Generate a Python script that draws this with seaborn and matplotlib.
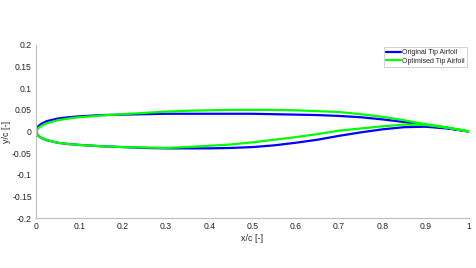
import numpy as np
import pandas as pd
import matplotlib
matplotlib.use("Agg")
import matplotlib.pyplot as plt
import seaborn as sns

# chordwise stations
x_c = [0, 0.005, 0.0125, 0.025, 0.05, 0.075, 0.1, 0.15, 0.2, 0.25, 0.3, 0.35, 0.4,
       0.45, 0.5, 0.55, 0.6, 0.65, 0.7, 0.75, 0.8, 0.85, 0.9, 0.95, 1.0]

orig_upper = [0, 0.012, 0.018, 0.024, 0.030, 0.033, 0.035, 0.038, 0.039, 0.040, 0.041, 0.041,
              0.041, 0.041, 0.041, 0.040, 0.039, 0.038, 0.036, 0.033, 0.028, 0.022, 0.015, 0.008, 0.0]
orig_lower = [0, -0.010, -0.015, -0.020, -0.026, -0.029, -0.031, -0.034, -0.036, -0.038, -0.039,
              -0.039, -0.039, -0.038, -0.036, -0.032, -0.026, -0.019, -0.010, -0.002, 0.005,
              0.010, 0.011, 0.007, 0.0]

opt_upper = [0, 0.008, 0.013, 0.019, 0.026, 0.030, 0.033, 0.037, 0.040, 0.043, 0.046, 0.048,
             0.049, 0.050, 0.050, 0.050, 0.049, 0.047, 0.045, 0.040, 0.034, 0.026, 0.017, 0.009, 0.0]
opt_lower = [0, -0.010, -0.015, -0.020, -0.026, -0.029, -0.031, -0.034, -0.036, -0.037, -0.038,
             -0.036, -0.033, -0.030, -0.025, -0.019, -0.013, -0.006, 0.002, 0.007, 0.012,
             0.016, 0.015, 0.009, 0.0]

series_names = ["Original Tip Airfoil", "Optimised Tip Airfoil"]
x_ticks = [0, 0.1, 0.2, 0.3, 0.4, 0.5, 0.6, 0.7, 0.8, 0.9, 1]
x_tick_labels = ["0", "0.1", "0.2", "0.3", "0.4", "0.5", "0.6", "0.7", "0.8", "0.9", "1"]
y_ticks = [-0.2, -0.15, -0.1, -0.05, 0, 0.05, 0.1, 0.15, 0.2]
y_tick_labels = ["-0.2", "-0.15", "-0.1", "-0.05", "0", "0.05", "0.1", "0.15", "0.2"]


def contour(upper, lower):
    xs = list(reversed(x_c)) + x_c[1:]
    ys = list(reversed(upper)) + lower[1:]
    return xs, ys


rows = []
for name, (up, lo) in zip(series_names, [(orig_upper, orig_lower), (opt_upper, opt_lower)]):
    xs, ys = contour(up, lo)
    for i, (a, b) in enumerate(zip(xs, ys)):
        rows.append({"x": a, "y": b, "series": name, "order": i})
df = pd.DataFrame(rows)

sns.set_style("white")
plt.rcParams['font.family'] = ['Liberation Sans', 'DejaVu Sans']

fig = plt.figure(figsize=(4.77, 2.68), dpi=100)
ax = fig.add_axes([36 / 477, 1 - 218 / 268, (469 - 36) / 477, (218 - 45) / 268])

sns.lineplot(data=df, x="x", y="y", hue="series", sort=False, estimator=None,
             units="series", palette=["#0000ff", "#00ff00"], linewidth=1.6, ax=ax)

ax.set_xlim(0, 1)
ax.set_ylim(-0.2, 0.2)
ax.set_xticks(x_ticks)
ax.set_xticklabels(x_tick_labels)
ax.set_yticks(y_ticks)
ax.set_yticklabels(y_tick_labels)
ax.tick_params(direction="in", length=3, width=0.6, color="#bdbdbd",
               labelsize=6.2, labelcolor="#262626", pad=3)
for s in ["top", "right"]:
    ax.spines[s].set_visible(False)
for s in ["left", "bottom"]:
    ax.spines[s].set_color("#bdbdbd")
    ax.spines[s].set_linewidth(0.8)
ax.set_xlabel("x/c [-]", fontsize=6.4, color="#262626", labelpad=2)
ax.set_ylabel("y/c [-]", fontsize=6.4, color="#262626", labelpad=1)

leg = ax.legend(loc="upper right", bbox_to_anchor=(0.996, 0.99), fontsize=5,
                frameon=True, fancybox=False, borderpad=0.35, handlelength=2.1,
                handletextpad=0.2, labelspacing=0.2, borderaxespad=0)
leg.get_frame().set_edgecolor("#bdbdbd")
leg.get_frame().set_linewidth(0.6)
for t in leg.get_texts():
    t.set_color("#262626")

fig.savefig("out.png", dpi=100)
